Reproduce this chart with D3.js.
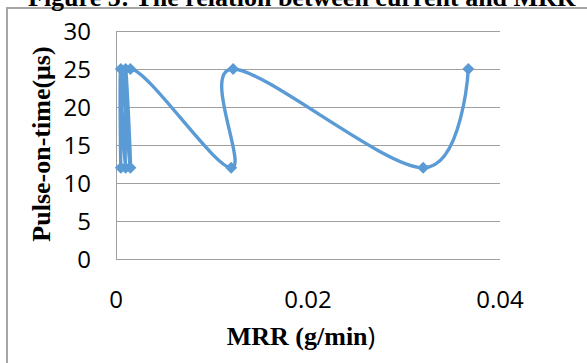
<!DOCTYPE html>
<html>
<head>
<meta charset="utf-8">
<script src="https://cdn.jsdelivr.net/npm/d3@7"></script>
<style>
  body { margin: 0; background: #fff; }
  svg { display: block; }
</style>
</head>
<body>
<div id="chart"></div>
<script>
// values
const mrr = [0.0005, 0.0005, 0.0015, 0.0010, 0.0010, 0.0015, 0.0120, 0.0122, 0.0320, 0.0367];
const pulseOn = [12, 25, 12, 25, 12, 25, 12, 25, 12, 25];
const xTicks = [0, 0.02, 0.04];
const yTicks = [0, 5, 10, 15, 20, 25, 30];

const width = 587, height = 363;
const plot = {left: 116, right: 500, top: 31, bottom: 259};
const blue = '#5b9bd5';

const svg = d3.select('#chart').append('svg')
  .attr('width', width).attr('height', height);

// chart frame (cut by the page edge on right and bottom)
svg.append('rect')
  .attr('x', 7).attr('y', 8)
  .attr('width', 700).attr('height', 500)
  .attr('fill', 'none').attr('stroke', '#a6a6a6').attr('stroke-width', 2);

svg.append('text')
  .attr('x', 28).attr('y', 6)
  .style('font-family', '"Liberation Serif", "Times New Roman", serif')
  .style('font-weight', 'bold').style('font-size', '26px')
  .text('Figure 5: The relation between current and MRR');

const x = d3.scaleLinear().domain([0, 0.04]).range([plot.left, plot.right]);
const y = d3.scaleLinear().domain([0, 30]).range([plot.bottom, plot.top]);

// horizontal gridlines
svg.append('g')
  .selectAll('line').data(yTicks).enter()
  .append('line')
  .attr('x1', plot.left).attr('x2', plot.right)
  .attr('y1', d => y(d) + 0.5).attr('y2', d => y(d) + 0.5)
  .attr('stroke', '#a0a0a0').attr('stroke-width', 1);

// vertical axis line
svg.append('line')
  .attr('x1', x(0) + 0.5).attr('x2', x(0) + 0.5)
  .attr('y1', plot.top).attr('y2', plot.bottom + 0.5)
  .attr('stroke', '#a0a0a0');

const tickFont = '"Open Sans", "Noto Sans", sans-serif';

svg.append('g')
  .selectAll('text').data(yTicks).enter()
  .append('text')
  .attr('x', 91).attr('y', d => y(d))
  .attr('dy', '0.36em')
  .attr('text-anchor', 'end')
  .style('font-family', tickFont).style('font-size', '24px')
  .text(d => d);

svg.append('g')
  .selectAll('text').data(xTicks).enter()
  .append('text')
  .attr('x', d => x(d)).attr('y', 308)
  .attr('text-anchor', 'middle')
  .style('font-family', tickFont).style('font-size', '24px')
  .text(d => d);

// axis titles
const xt = svg.append('text')
  .attr('x', 301).attr('y', 345)
  .attr('text-anchor', 'middle')
  .style('font-family', '"Liberation Serif", "Times New Roman", serif')
  .style('font-weight', 'bold').style('font-size', '26px');
xt.append('tspan').text('MRR (g/min');
xt.append('tspan').style('font-family', tickFont).style('font-weight', 'normal').text(')');

svg.append('text')
  .attr('transform', 'translate(50,144) rotate(-90)')
  .attr('text-anchor', 'middle')
  .style('font-family', '"Liberation Serif", "Times New Roman", serif')
  .style('font-weight', 'bold').style('font-size', '26px')
  .text('Pulse-on-time(\u03bcs)');

// series
const pts = mrr.map((m, i) => [m, pulseOn[i]]);

const line = d3.line()
  .x(d => x(d[0])).y(d => y(d[1]))
  .curve(d3.curveCatmullRom.alpha(0));

svg.append('path')
  .datum(pts)
  .attr('d', line)
  .attr('fill', 'none')
  .attr('stroke', blue).attr('stroke-width', 3.4)
  .attr('stroke-linejoin', 'round');

svg.append('g')
  .selectAll('path').data(pts).enter()
  .append('path')
  .attr('d', d3.symbol().type(d3.symbolDiamond2).size(92))
  .attr('transform', d => 'translate(' + x(d[0]) + ',' + y(d[1]) + ')')
  .attr('fill', blue);
</script>
</body>
</html>
